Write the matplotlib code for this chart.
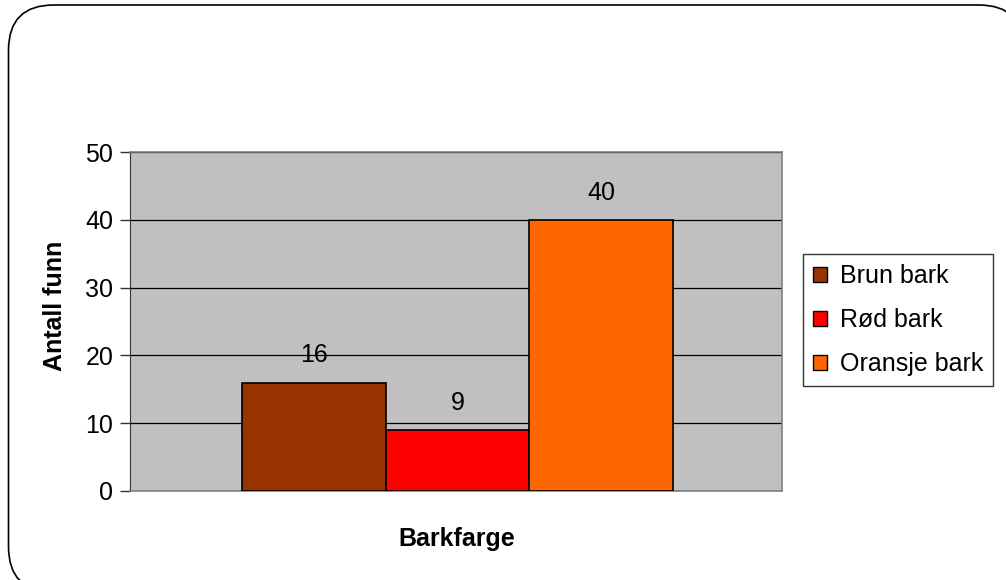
import matplotlib
matplotlib.use("Agg")
import matplotlib.pyplot as plt
from matplotlib.patches import FancyBboxPatch, Patch

plt.rcParams['font.family'] = ['Liberation Sans', 'DejaVu Sans']

series = ["Brun bark", "Rød bark", "Oransje bark"]
values = [16, 9, 40]
colors = ["#993300", "#FF0000", "#FF6600"]
xlabel = "Barkfarge"
ylabel = "Antall funn"

fig = plt.figure(figsize=(10.06, 5.8), dpi=100)

# rounded chart frame, kept behind the plot area (right and bottom run off the canvas)
frame = FancyBboxPatch((8.5 / 1006, 1 - 592 / 580), (1024 - 8.5) / 1006, (592 - 5) / 580,
                       boxstyle="round,pad=0,rounding_size=0.045",
                       transform=fig.transFigure, facecolor="white",
                       edgecolor="black", linewidth=1.2,
                       mutation_aspect=1006 / 580, zorder=-10)
fig.patches.append(frame)

ax = fig.add_axes([130 / 1006, 1 - 491 / 580, 652 / 1006, 339 / 580])
ax.set_facecolor("#C0C0C0")

pos = [-1, 0, 1]
bars = ax.bar(pos, values, width=1.0, color=colors, edgecolor="black",
              linewidth=1.2, zorder=3)
for p, v in zip(pos, values):
    ax.annotate(str(v), (p, v), xytext=(0, 19.5), textcoords="offset points",
                ha="center", va="center", fontsize=18, zorder=4)

ax.set_xlim(-2.28, 2.26)
ax.set_ylim(0, 50)
ax.set_yticks(range(0, 51, 10))
ax.tick_params(axis="y", labelsize=18, length=7, width=1, direction="out",
               pad=5, color="#333333")
ax.set_xticks([])
ax.yaxis.grid(True, color="black", linewidth=0.9, zorder=1)
ax.set_axisbelow(True)

for side in ["top", "right", "bottom"]:
    ax.spines[side].set_color("#808080")
    ax.spines[side].set_linewidth(1.2)
ax.spines["left"].set_color("#333333")

ax.set_xlabel(xlabel, fontsize=18, fontweight="bold")
ax.set_ylabel(ylabel, fontsize=18, fontweight="bold")
ax.xaxis.set_label_coords(0.5015, -0.105)
ax.yaxis.set_label_coords(-0.097, 0.546)

handles = [Patch(facecolor=c, edgecolor="black", label=s) for s, c in zip(series, colors)]
leg = fig.legend(handles=handles, loc="upper left",
                 bbox_to_anchor=(803 / 1006, 1 - 254 / 580),
                 fontsize=18, frameon=True, fancybox=False,
                 handlelength=0.56, handleheight=0.56, handletextpad=0.5,
                 borderpad=0.4, labelspacing=0.8, borderaxespad=0)
leg.get_frame().set_edgecolor("black")
leg.get_frame().set_linewidth(1.0)

fig.savefig("out.png", dpi=100)
